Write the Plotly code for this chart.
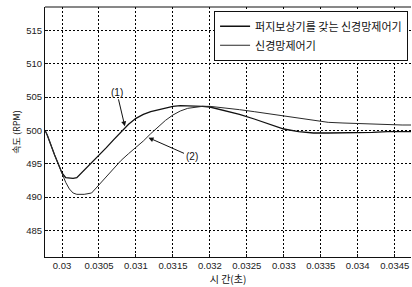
import plotly.graph_objects as go

t = [0.02977, 0.0298, 0.0299, 0.03, 0.03005, 0.0301, 0.03015, 0.0302, 0.0303, 0.0304,
     0.0305, 0.0306, 0.0307, 0.0308, 0.0309, 0.031, 0.0311, 0.0312, 0.0313, 0.0314,
     0.0315, 0.0316, 0.0317, 0.0318, 0.0319, 0.032, 0.0322, 0.0324, 0.0326, 0.0328,
     0.033, 0.0332, 0.0334, 0.0336, 0.0338, 0.034, 0.0342, 0.0344, 0.0346, 0.0348]

rpm_fuzzy = [500.0, 499.3, 496.3, 493.6, 492.9, 492.8, 492.8, 492.9, 494.0, 495.2,
             496.3, 497.4, 498.6, 499.8, 500.9, 501.8, 502.4, 502.8, 503.1, 503.4,
             503.6, 503.7, 503.7, 503.7, 503.6, 503.5, 503.0, 502.4, 501.7, 500.9,
             500.2, 499.8, 499.6, 499.6, 499.6, 499.6, 499.7, 499.8, 499.8, 499.8]

rpm_nn = [500.0, 499.3, 496.3, 493.4, 492.2, 491.2, 490.6, 490.4, 490.4, 490.6,
          491.8, 493.1, 494.3, 495.5, 496.5, 497.4, 498.4, 499.5, 500.5, 501.5,
          502.3, 502.9, 503.3, 503.5, 503.6, 503.6, 503.4, 503.1, 502.8, 502.5,
          502.2, 501.8, 501.5, 501.2, 501.1, 501.0, 500.9, 500.8, 500.8, 500.8]

x_ticks = [0.03, 0.0305, 0.031, 0.0315, 0.032, 0.0325, 0.033, 0.0335, 0.034, 0.0345]
x_tick_text = ["0.03", "0.0305", "0.031", "0.0315", "0.032", "0.0325", "0.033", "0.0335", "0.034", "0.0345"]
y_ticks = [485, 490, 495, 500, 505, 510, 515]

names = ["퍼지보상기를 갖는 신경망제어기", "신경망제어기"]

FONT = "Liberation Sans, Arial, Noto Sans CJK KR"
KFONT = "Noto Sans CJK KR"

fig = go.Figure()
fig.add_trace(go.Scatter(x=t, y=rpm_fuzzy, mode="lines", name=names[0],
                         line=dict(color="#111111", width=1.3)))
fig.add_trace(go.Scatter(x=t, y=rpm_nn, mode="lines", name=names[1],
                         line=dict(color="#2a2a2a", width=1.0)))

fig.add_annotation(x=0.03085, y=500.6, text="(1)", showarrow=True, ax=-8, ay=-34,
                   arrowhead=2, arrowsize=1, arrowwidth=1, arrowcolor="#111",
                   font=dict(size=10, color="#111", family=FONT))
fig.add_annotation(x=0.03117, y=498.9, text="(2)", showarrow=True, ax=43, ay=19,
                   arrowhead=2, arrowsize=1, arrowwidth=1, arrowcolor="#111",
                   font=dict(size=10, color="#111", family=FONT))

grid = dict(showgrid=True, gridcolor="#000000", gridwidth=1, griddash="2px,2px")

fig.update_layout(
    width=412, height=287,
    margin=dict(l=45, r=1, t=7, b=30),
    paper_bgcolor="white", plot_bgcolor="white",
    font=dict(family=FONT, size=10, color="#222"),
    showlegend=True,
    legend=dict(x=0.992, y=0.985, xanchor="right", yanchor="top",
                bgcolor="white", bordercolor="#111", borderwidth=1,
                font=dict(size=11, color="#111", family=KFONT),
                itemwidth=30, tracegroupgap=0),
    xaxis=dict(range=[0.02977, 0.03472], tickvals=x_ticks, ticktext=x_tick_text,
               automargin=False,
               showline=True, linecolor="#111", linewidth=1, mirror=False,
               ticks="inside", ticklen=3, tickcolor="#111", zeroline=False,
               tickfont=dict(size=9.5, color="#222"),
               title=dict(text="시 간(초)", standoff=1,
                          font=dict(size=10, family=KFONT, color="#111")),
               **grid),
    yaxis=dict(range=[481, 518.5], tickvals=y_ticks, automargin=False,
               showline=True, linecolor="#111", linewidth=1,
               ticks="inside", ticklen=3, tickcolor="#111", zeroline=False,
               tickfont=dict(size=9.5, color="#222"),
               title=dict(text="속도 (RPM)", standoff=4,
                          font=dict(size=9, family=KFONT, color="#111")),
               **grid),
)
fig.add_shape(type="line", xref="paper", yref="paper", x0=0, x1=1, y0=1, y1=1,
              line=dict(color="#111", width=1))

fig.write_html("out.html", config={"displayModeBar": False},
               post_script="document.body.style.margin='0';document.body.style.overflow='hidden';")
